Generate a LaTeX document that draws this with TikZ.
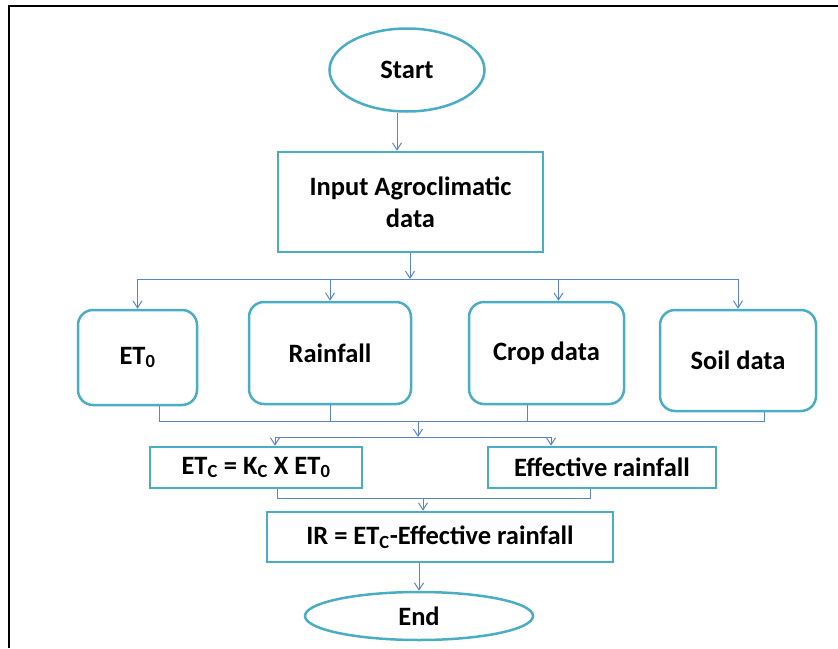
\documentclass[tikz,border=0pt]{standalone}
\usepackage{fontspec}
\setmainfont{Carlito}
\usetikzlibrary{shapes.geometric,arrows.meta}
\definecolor{boxline}{HTML}{4BACC6}
\definecolor{flowline}{HTML}{5B85C8}
\tikzset{
	label font/.style={font=\fontsize{26.5}{32}\selectfont\bfseries},
	terminal/.style={ellipse, draw=boxline, line width=2.5pt, inner sep=0pt, label font},
	datablock/.style={rectangle, rounded corners=15pt, draw=boxline, line width=2.5pt, inner sep=0pt, align=center, label font},
	calcblock/.style={rectangle, draw=boxline, line width=2.5pt, inner sep=0pt, align=center, label font},
	flow/.style={draw=flowline, line width=1pt, -{Straight Barb[length=7pt,width=9pt]}},
	bus/.style={draw=flowline, line width=1pt}
}
\begin{document}
\begin{tikzpicture}[x=1pt,y=-1pt]
			\useasboundingbox (0,0) rectangle (838,648);
			% frame
			\draw[line width=2pt] (9,648) -- (9,6) -- (838,6);
			% start and input
			\node[terminal, minimum width=155pt, minimum height=83pt] (start) at (407,70) {Start};
			\node[calcblock, minimum width=265pt, minimum height=100pt] (input) at (410.5,202) {Input Agroclimatic\\data};
			\draw[flow] ([xshift=-10pt]start.south) -- ([xshift=-13.5pt]input.north);
			% data blocks
			\node[datablock, minimum width=119pt, minimum height=95pt] (et0) at (137.5,357.5) {ET\textsubscript{0}};
			\node[datablock, minimum width=162pt, minimum height=102pt] (rain) at (330,353) {Rainfall};
			\node[datablock, minimum width=155pt, minimum height=102pt] (crop) at (546.5,353) {Crop data};
			\node[datablock, minimum width=156pt, minimum height=101pt] (soil) at (738,360.5) {Soil data};
			\coordinate (split) at (410,279);
			\draw[flow] (input.south -| split) -- (split);
			\foreach \n/\dx in {et0/0, rain/0, crop/12, soil/0}
				\draw[flow] (split) -| ([xshift=\dx pt]\n.north);
			% calculations
			\node[calcblock, minimum width=212pt, minimum height=41pt] (etc) at (256,467.5) {ET\textsubscript{C} = K\textsubscript{C} X ET\textsubscript{0}};
			\node[calcblock, minimum width=228pt, minimum height=41pt] (eff) at (602,467.5) {Effective rainfall};
			\coordinate (merge) at (418,421);
			\coordinate (fork) at (418,437);
			\foreach \n/\dx in {et0/22, rain/0, crop/-19, soil/26}
				\draw[bus] ([xshift=\dx pt]\n.south) |- (merge);
			\draw[flow] (merge) -- (fork);
			\draw[flow] (fork) -| ([xshift=19pt]etc.north);
			\draw[flow] (fork) -| ([xshift=-51pt]eff.north);
			% irrigation requirement
			\node[calcblock, minimum width=346pt, minimum height=50pt] (ir) at (440,537) {IR = ET\textsubscript{C}-Effective rainfall};
			\coordinate (join) at (423,498);
			\draw[bus] ([xshift=21pt]etc.south) |- (join);
			\draw[bus] ([xshift=-12pt]eff.south) |- (join);
			\draw[flow] (join) -- (join |- ir.north);
			% end
			\node[terminal, minimum width=228pt, minimum height=48pt] (end) at (419,616) {End};
			\draw[flow] (ir.south -| end.north) -- (end.north);
\end{tikzpicture}
\end{document}
